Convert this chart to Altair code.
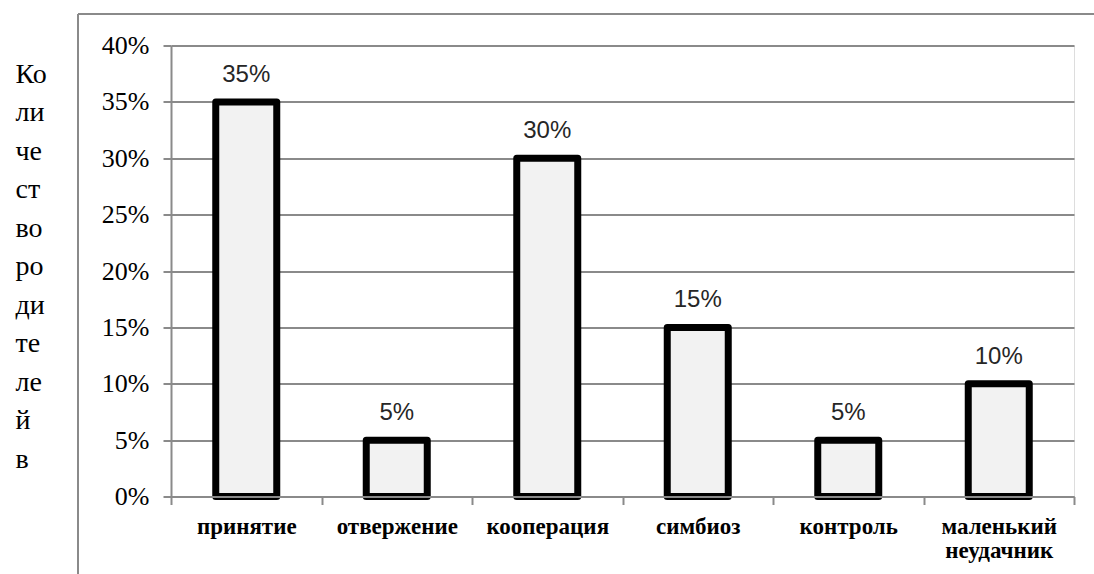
import altair as alt
import pandas as pd

# Parenting style categories and share of parents in each
categories = ["принятие", "отвержение", "кооперация", "симбиоз", "контроль", "маленький неудачник"]
shares = [0.35, 0.05, 0.30, 0.15, 0.05, 0.10]
y_ticks = [0, 0.05, 0.10, 0.15, 0.20, 0.25, 0.30, 0.35, 0.40]
y_title_lines = ["Ко", "ли", "че", "ст", "во", "ро", "ди", "те", "ле", "й", "в"]

df = pd.DataFrame({"category": categories, "share": shares})

W, H = 903, 451
PAD_L, PAD_T = 171, 45.5
GRAY = "#8a8a8a"
SERIF = "Liberation Serif"

x_enc = alt.X(
    "category:N",
    sort=categories,
    scale=alt.Scale(paddingInner=0, paddingOuter=0),
    axis=alt.Axis(
        title=None,
        labelAngle=0,
        tickBand="extent",
        labelFontWeight="bold",
        labelFontSize=23,
        labelBaseline="alphabetic",
        labelPadding=29,
        labelLineHeight=24,
        labelExpr="split(datum.label, ' ')",
        zindex=1,
    ),
)

y_enc = alt.Y(
    "share:Q",
    scale=alt.Scale(domain=[0, 0.4], nice=False),
    axis=alt.Axis(
        values=y_ticks,
        format=".0%",
        title=y_title_lines,
        titleAngle=0,
        titleAlign="left",
        titleBaseline="alphabetic",
        titleX=15 - PAD_L,
        titleY=82 - PAD_T,
        titleLineHeight=38.5,
        labelPadding=14,
        grid=True,
    ),
)

base = alt.Chart(df).encode(x=x_enc, y=y_enc)

bars = base.mark_bar(
    size=61, fill="#f2f2f2", stroke="#000000", strokeWidth=7, strokeJoin="round"
)

labels = base.mark_text(
    font="Liberation Sans", fontSize=24, color="#262626", baseline="alphabetic", dy=-20
).encode(text=alt.Text("share:Q", format=".0%"))

# Outer frame of the chart area (top and left edges)
frame_src = alt.Data(values=[{"k": 0}])
frame_top = alt.Chart(frame_src).mark_rule(color=GRAY, strokeWidth=2).encode(
    x=alt.value(78 - PAD_L), x2=alt.value(W + 60), y=alt.value(14 - PAD_T)
)
frame_left = alt.Chart(frame_src).mark_rule(color=GRAY, strokeWidth=2).encode(
    x=alt.value(78 - PAD_L), y=alt.value(14 - PAD_T), y2=alt.value(H + 120)
)

chart = (
    alt.layer(frame_top, frame_left, bars, labels)
    .properties(
        width=W,
        height=H,
        autosize=alt.AutoSizeParams(type="none"),
        padding={"left": PAD_L, "top": PAD_T, "right": 1094 - PAD_L - W, "bottom": 574 - PAD_T - H},
    )
    .configure_view(stroke=None)
    .configure(background="#ffffff")
    .configure_axis(
        labelFont=SERIF,
        titleFont=SERIF,
        labelColor="#000000",
        titleColor="#000000",
        tickColor=GRAY,
        tickWidth=2,
        tickSize=8,
        domainColor=GRAY,
        domainWidth=2,
        gridColor=GRAY,
        gridWidth=2,
    )
    .configure_axisY(labelFontSize=26, titleFontSize=28, titleFontWeight="normal")
)

chart.save("out.html", embed_options={"renderer": "svg", "actions": False})
